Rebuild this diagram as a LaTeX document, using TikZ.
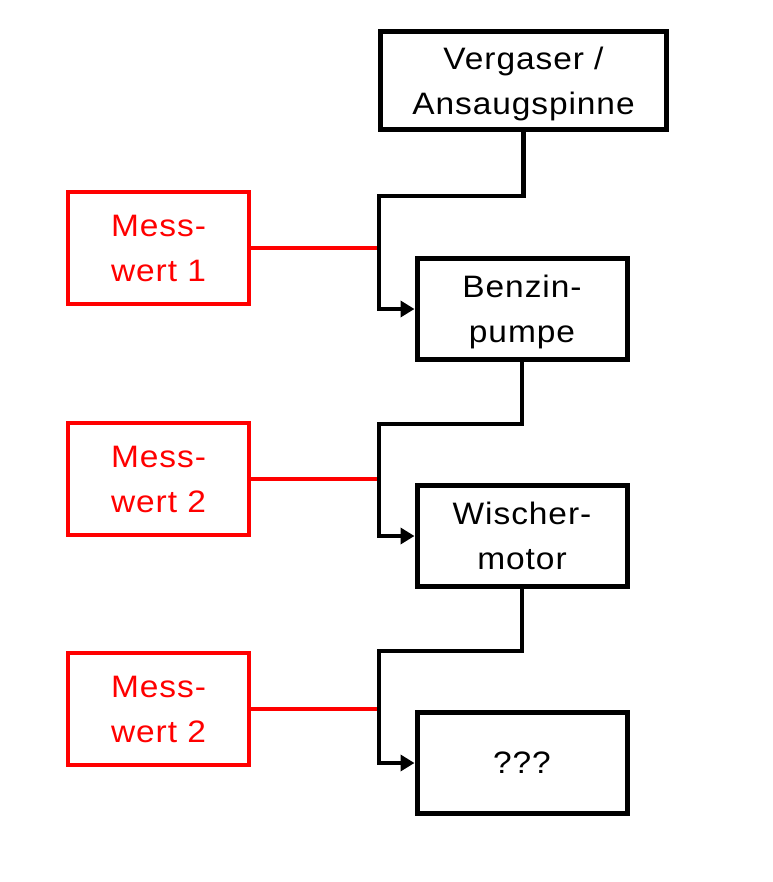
\documentclass[tikz,border=0pt]{standalone}
\usepackage{fontspec}
\setmainfont{Liberation Sans}[FakeStretch=1.08,LetterSpace=3]
\usetikzlibrary{arrows.meta}
\definecolor{mred}{RGB}{255,0,0}
\begin{document}
\begin{tikzpicture}[x=1pt,y=-1pt,
  txt/.style={font=\fontsize{31}{45}\selectfont, align=center, inner sep=0pt},
  blackbox/.style={txt, draw=black, line width=5pt, minimum width=210pt, minimum height=101pt},
  redbox/.style={txt, draw=mred, text=mred, line width=4.8pt, minimum width=181pt, minimum height=112pt},
  conn/.style={draw=black, line width=4.5pt, -{Triangle[length=14pt,width=16pt]}},
  redline/.style={draw=mred, line width=4.5pt}]
\useasboundingbox (0,0) rectangle (772,882);
% boxes
\node[blackbox, minimum width=286pt, minimum height=98pt] (V) at (523.5,81) {Vergaser /\\\smash{Ansaugspinne}};
\node[blackbox] (B) at (522,309) {Benzin-\\\smash{pumpe}};
\node[blackbox] (W) at (522,536) {Wischer-\\motor};
\node[blackbox] (Q) at (522,763) {???};
\node[redbox] (M1) at (158.5,248) {Mess-\\wert 1};
\node[redbox] (M2) at (158.5,479) {Mess-\\wert 2};
\node[redbox] (M3) at (158.5,709) {Mess-\\wert 2};
% elbow coordinates
\coordinate (e1) at (379,196);
\coordinate (e2) at (379,424);
\coordinate (e3) at (379,651);
% red lines
\draw[redline] (M1.east) -- (M1.east -| e1);
\draw[redline] (M2.east) -- (M2.east -| e2);
\draw[redline] (M3.east) -- (M3.east -| e3);
% connectors
\draw[conn] (V.south) |- (e1) |- (B.west);
\draw[conn] (B.south) |- (e2) |- (W.west);
\draw[conn] (W.south) |- (e3) |- (Q.west);
\end{tikzpicture}
\end{document}
